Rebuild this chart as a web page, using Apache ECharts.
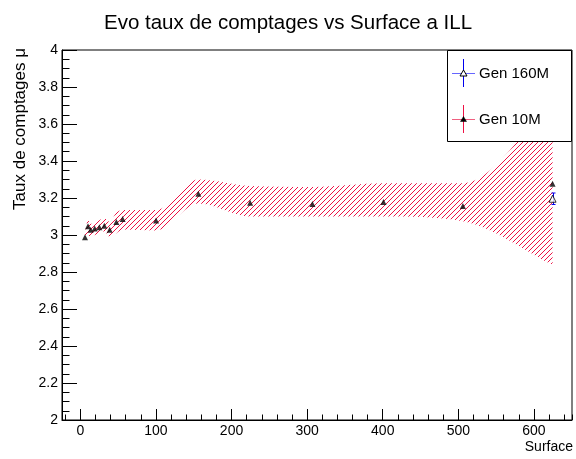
<!DOCTYPE html>
<html><head><meta charset="utf-8">
<script src="https://cdn.jsdelivr.net/npm/echarts@6/dist/echarts.min.js"></script>
<style>html,body{margin:0;padding:0;background:#fff}#c{width:576px;height:459px}</style>
</head><body><div id="c"></div>
<script>
// ---- data ----
const surface10M = [6.2, 10.2, 13.7, 19, 25.2, 31.8, 38.9, 47.7, 56, 100.2, 156.2, 224.6, 307, 401, 506, 624.6];
const taux10M    = [2.988, 3.047, 3.029, 3.035, 3.042, 3.050, 3.029, 3.070, 3.086, 3.079, 3.223, 3.175, 3.168, 3.178, 3.157, 3.277];
const bandLow    = [2.975, 3.000, 2.990, 3.000, 3.010, 3.020, 2.990, 3.010, 3.030, 3.025, 3.170, 3.100, 3.100, 3.100, 3.075, 2.840];
const bandHigh   = [3.010, 3.080, 3.060, 3.070, 3.080, 3.090, 3.070, 3.120, 3.135, 3.135, 3.300, 3.265, 3.260, 3.280, 3.280, 3.720];
const surface160M = [624.6];
const taux160M    = [3.196];
const err160M     = [0.031];
const legendNames = ['Gen 160M', 'Gen 10M'];
const FONT = '"Liberation Sans", Arial, Helvetica, sans-serif';

// hatch pattern (ROOT-like "/" hatching)
const tile = document.createElement('canvas');
tile.width = 5; tile.height = 5;
(function(){
  const g = tile.getContext('2d');
  g.strokeStyle = '#ee1144'; g.lineWidth = 1;
  g.beginPath();
  g.moveTo(-1, 1); g.lineTo(1, -1);
  g.moveTo(0, 5); g.lineTo(5, 0);
  g.moveTo(4, 6); g.lineTo(6, 4);
  g.stroke();
})();
const hatch = {image: tile, repeat: 'repeat'};

// monotone cubic (Fritsch-Carlson) path through pixel points
function smoothPath(pts) {
  const n = pts.length, s = [], m = [];
  for (let i = 0; i < n - 1; i++) s.push((pts[i + 1][1] - pts[i][1]) / (pts[i + 1][0] - pts[i][0]));
  m.push(s[0]);
  for (let i = 1; i < n - 1; i++) m.push(s[i - 1] * s[i] <= 0 ? 0 : (s[i - 1] + s[i]) / 2);
  m.push(s[n - 2]);
  for (let i = 0; i < n - 1; i++) {
    if (s[i] === 0) { m[i] = 0; m[i + 1] = 0; continue; }
    const a = m[i] / s[i], b = m[i + 1] / s[i], h = a * a + b * b;
    if (h > 9) { const t = 3 / Math.sqrt(h); m[i] = t * a * s[i]; m[i + 1] = t * b * s[i]; }
  }
  let d = '';
  for (let i = 0; i < n - 1; i++) {
    const p = pts[i], q = pts[i + 1], dx = (q[0] - p[0]) / 3;
    d += ' C' + (p[0] + dx) + ' ' + (p[1] + m[i] * dx) + ' ' + (q[0] - dx) + ' ' + (q[1] - m[i + 1] * dx) + ' ' + q[0] + ' ' + q[1];
  }
  return d;
}

const chart = echarts.init(document.getElementById('c'), null, {renderer: 'canvas'});
const option = {
  animation: false,
  backgroundColor: '#fff',
  title: {
    text: 'Evo taux de comptages vs Surface a ILL',
    left: 'center', top: 8,
    textStyle: {fontFamily: FONT, fontSize: 20.5, fontWeight: 'normal', color: '#000'}
  },
  grid: {left: 62, right: 4, top: 50, bottom: 39, show: true, borderColor: '#000', borderWidth: 1, backgroundColor: 'transparent'},
  xAxis: [{
    type: 'value', min: -24.2, max: 650.3, splitNumber: 7,
    axisLine: {onZero: false, lineStyle: {color: '#000', width: 1}},
    axisTick: {inside: true, length: 11, lineStyle: {color: '#000'}},
    axisLabel: {color: '#000', fontFamily: FONT, fontSize: 14, margin: 4, showMinLabel: false, showMaxLabel: false},
    splitLine: {show: false}
  }, {
    type: 'value', min: -24.2, max: 650.3, splitNumber: 34, position: 'bottom',
    axisLine: {show: false, onZero: false},
    axisTick: {inside: true, length: 5.5, lineStyle: {color: '#000'}},
    axisLabel: {show: false},
    splitLine: {show: false}
  }],
  yAxis: {
    type: 'value', min: 2, max: 4, interval: 0.2,
    axisLine: {onZero: false, lineStyle: {color: '#000', width: 1}},
    axisTick: {inside: true, length: 15, lineStyle: {color: '#000'}},
    minorTick: {show: true, splitNumber: 4, length: 7.5, lineStyle: {color: '#000'}},
    axisLabel: {color: '#000', fontFamily: FONT, fontSize: 14, margin: 4},
    splitLine: {show: false}
  },
  series: [{
    type: 'custom', name: 'band', xAxisIndex: 0, z: 1,
    data: [[surface10M[0], bandLow[0]]],
    renderItem: function (params, api) {
      const up = surface10M.map((x, i) => api.coord([x, bandHigh[i]]));
      const lo = surface10M.map((x, i) => api.coord([x, bandLow[i]]));
      const loR = lo.slice().reverse().map(p => [-p[0], p[1]]);
      // reverse lower edge: mirror x so the smoothing helper sees increasing x, then mirror back
      const dLo = smoothPath(loR).replace(/C([^C]+)/g, function (seg) {
        const nums = seg.slice(1).trim().split(/\s+/).map(Number);
        for (let k = 0; k < nums.length; k += 2) nums[k] = -nums[k];
        return 'C' + nums.join(' ') + ' ';
      });
      const last = lo[lo.length - 1];
      const d = 'M' + up[0][0] + ' ' + up[0][1] + smoothPath(up) +
                ' L' + last[0] + ' ' + last[1] + ' ' + dLo + ' Z';
      return {type: 'path', shape: {pathData: d}, style: {fill: hatch, stroke: null}};
    },
    silent: true
  }, {
    type: 'scatter', name: legendNames[1], xAxisIndex: 0, z: 5,
    symbol: 'triangle', symbolSize: 6,
    itemStyle: {color: '#000'},
    data: surface10M.map((x, i) => [x, taux10M[i]])
  }, {
    type: 'custom', name: 'err160', xAxisIndex: 0, z: 4,
    data: surface160M.map((x, i) => [x, taux160M[i] - err160M[i], taux160M[i] + err160M[i]]),
    renderItem: function (params, api) {
      const a = api.coord([api.value(0), api.value(1)]);
      const b = api.coord([api.value(0), api.value(2)]);
      const x = Math.round(a[0]) + 0.5;
      const st = {stroke: '#0000ee', lineWidth: 1};
      return {type: 'group', children: [
        {type: 'line', shape: {x1: x, y1: a[1], x2: x, y2: b[1]}, style: st},
        {type: 'line', shape: {x1: x - 2, y1: a[1], x2: x + 2, y2: a[1]}, style: st},
        {type: 'line', shape: {x1: x - 2, y1: b[1], x2: x + 2, y2: b[1]}, style: st}
      ]};
    }
  }, {
    type: 'scatter', name: legendNames[0], xAxisIndex: 0, z: 6,
    symbol: 'triangle', symbolSize: 7,
    itemStyle: {color: '#fff', borderColor: '#000', borderWidth: 1},
    data: surface160M.map((x, i) => [x, taux160M[i]])
  }],
  graphic: [
    {type: 'text', x: 20, y: 48, rotation: Math.PI / 2, z: 50,
     style: {text: 'Taux de comptages μ', font: '17px ' + FONT, fill: '#000', align: 'right', verticalAlign: 'middle'}},
    {type: 'text', x: 573, y: 447, z: 50,
     style: {text: 'Surface', font: '14px ' + FONT, fill: '#000', align: 'right', verticalAlign: 'middle'}},
    {type: 'rect', z: 100, shape: {x: 447.5, y: 50.5, width: 124, height: 91}, style: {fill: '#fff', stroke: '#000', lineWidth: 1}},
    {type: 'line', z: 101, shape: {x1: 452, y1: 73.5, x2: 475, y2: 73.5}, style: {stroke: '#6666ff', lineWidth: 1}},
    {type: 'line', z: 101, shape: {x1: 463.5, y1: 59, x2: 463.5, y2: 87}, style: {stroke: '#0000ee', lineWidth: 1}},
    {type: 'polygon', z: 102, shape: {points: [[463.5, 70], [467, 76], [460, 76]]}, style: {fill: '#fff', stroke: '#000', lineWidth: 1}},
    {type: 'text', z: 102, x: 479, y: 73.5, style: {text: legendNames[0], font: '15px ' + FONT, fill: '#000', align: 'left', verticalAlign: 'middle'}},
    {type: 'line', z: 101, shape: {x1: 452, y1: 119.5, x2: 475, y2: 119.5}, style: {stroke: '#f06080', lineWidth: 1}},
    {type: 'line', z: 101, shape: {x1: 463.5, y1: 105, x2: 463.5, y2: 133}, style: {stroke: '#ee1144', lineWidth: 1}},
    {type: 'polygon', z: 102, shape: {points: [[463.5, 116.5], [466.5, 121.5], [460.5, 121.5]]}, style: {fill: '#000', stroke: '#000', lineWidth: 0.5}},
    {type: 'text', z: 102, x: 479, y: 119.5, style: {text: legendNames[1], font: '15px ' + FONT, fill: '#000', align: 'left', verticalAlign: 'middle'}}
  ]
};
chart.setOption(option);
</script>
</body></html>
